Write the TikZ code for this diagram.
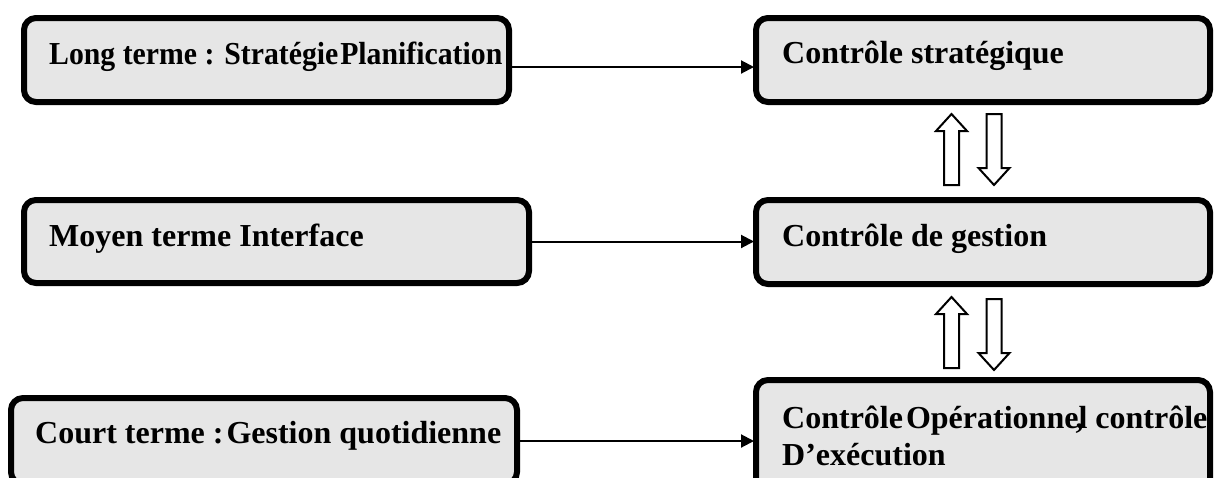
\documentclass[tikz,border=0pt]{standalone}
\usepackage{fontspec}
\setmainfont{Liberation Serif}
\usetikzlibrary{arrows.meta}
\definecolor{boxgray}{HTML}{E6E6E6}
\begin{document}
\begin{tikzpicture}[x=1pt,y=-1pt,
  box/.style={draw=black, line width=6pt, fill=boxgray, rounded corners=12pt,
    inner sep=0pt, outer sep=0pt, anchor=north west},
  lbl/.style={anchor=base west, inner sep=0pt, font=\fontsize{32}{37}\selectfont\bfseries},
  link/.style={line width=2pt, -{Triangle[length=13pt,width=13pt]}, shorten >=2pt},
  blk/.style={draw=black, line width=2pt, fill=white, line join=miter},
  downarrow/.pic={\path[blk] (-7.5,0) -- (7.5,0) -- (7.5,54) -- (15.5,54)
      -- (0,71) -- (-15.5,54) -- (-7.5,54) -- cycle;}]
\useasboundingbox (0,0) rectangle (1214,477);
\clip (0,0) rectangle (1214,477);

% horizon boxes (left column)
\node[box, minimum width=485pt, minimum height=84pt] (lt) at (24,18) {};
\node[box, minimum width=505pt, minimum height=83pt] (ml) at (24,200) {};
\node[box, minimum width=506pt, minimum height=86pt] (lb) at (11,398) {};

% control boxes (right column)
\node[box, minimum width=454pt, minimum height=84pt] (rt) at (756,18) {};
\node[box, minimum width=454pt, minimum height=84pt] (mr) at (756,200) {};
\node[box, minimum width=454pt, minimum height=122pt] (rb) at (756,380) {};

% labels
\node[lbl] (ltT) at (49,64) {\scalebox{0.93}[1]{Long terme : Stratégie\hspace{2pt}Planification}};
\node[lbl] (mlT) at (49,246) {Moyen terme Interface};
\node[lbl] (lbT) at (35,443) {Court terme :\hspace{3pt}Gestion quotidienne};
\node[lbl] (rtT) at (782,63) {Contrôle stratégique};
\node[lbl] (mrT) at (782,246) {Contrôle de gestion};
\node[lbl] (rbT) at (782,428) {\parbox[t]{520pt}{\raggedright\fontsize{32}{37}\selectfont\bfseries
  Contrôle\hspace{3pt}Opérationne\rlap{\kern-3pt,}l contrôle\\D’exécution}};

% horizon to control links
\draw[link] ([yshift=-7pt]lt.east) -- ([yshift=-7pt]rt.west);
\draw[link] (ml.east) -- (ml.east -| mr.west);
\draw[link] (lb.east) -- (rb.west);

% two-way block arrows between control levels
\pic[yscale=-1] at (951.5,185) {downarrow};
\pic at (994,114) {downarrow};
\pic[yscale=-1] at (951.5,368) {downarrow};
\pic at (994,299) {downarrow};
\end{tikzpicture}
\end{document}
